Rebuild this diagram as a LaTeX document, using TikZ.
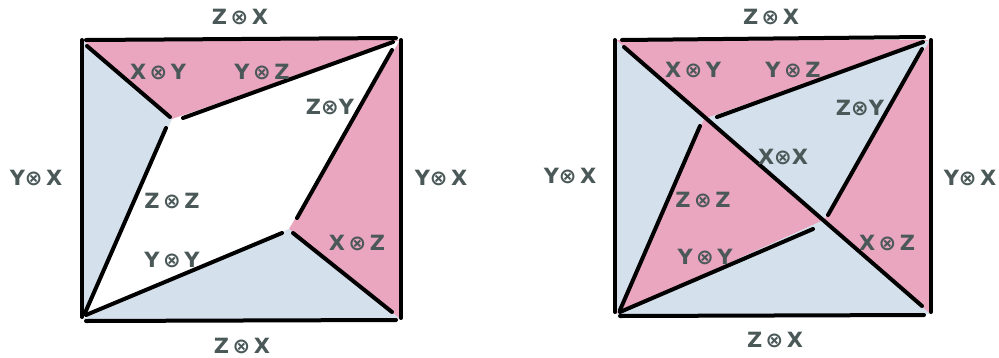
\documentclass[tikz,border=0pt]{standalone}
\usepackage{fontspec}
\setmainfont{DejaVu Sans}
\definecolor{pinkf}{HTML}{E9A6BE}
\definecolor{bluef}{HTML}{D4E0EC}
\definecolor{txt}{HTML}{4A5857}
\begin{document}
\begin{tikzpicture}[x=1pt,y=-1pt,
  edge/.style={line width=4pt,line cap=round,black},
  lbl/.style={text=txt,font=\fontsize{21}{21}\selectfont\bfseries,inner sep=0pt}]
\useasboundingbox (0,0) rectangle (999,357);
% ---------------- left figure ----------------
\coordinate (aTL) at (83,40);
\coordinate (aTR) at (400,40);
\coordinate (aBR) at (400,319);
\coordinate (aBL) at (83,319);
\coordinate (aP) at (172,119);
\coordinate (aQ) at (289,229);
\fill[pinkf] (aTL) -- (aTR) -- (aP) -- cycle;
\fill[bluef] (aTL) -- (aP) -- (aBL) -- cycle;
\fill[pinkf] (aTR) -- (aBR) -- (aQ) -- cycle;
\fill[bluef] (aBL) -- (aQ) -- (aBR) -- cycle;
% interior lines
\coordinate (a1s) at (87,46);   \coordinate (a1e) at (170,117);
\coordinate (a2s) at (183,118); \coordinate (a2e) at (393,42);
\coordinate (a3s) at (166,128); \coordinate (a3e) at (85,313);
\coordinate (a4s) at (392,50);  \coordinate (a4e) at (297,218);
\coordinate (a5s) at (282,233); \coordinate (a5e) at (86,315);
\coordinate (a6s) at (293,233); \coordinate (a6e) at (392,312);
\draw[edge] (a1s) -- (a1e);
\draw[edge] (a2s) -- (a2e);
\draw[edge] (a3s) -- (a3e);
\draw[edge] (a4s) -- (a4e);
\draw[edge] (a5s) -- (a5e);
\draw[edge] (a6s) -- (a6e);
% sides
\coordinate (at1) at (86,40);  \coordinate (at2) at (396,38);
\coordinate (al1) at (82,40);  \coordinate (al2) at (82,317);
\coordinate (ar1) at (401,40); \coordinate (ar2) at (401,318);
\coordinate (ab1) at (86,321); \coordinate (ab2) at (396,320);
\draw[edge] (at1) -- (at2);
\draw[edge] (al1) -- (al2);
\draw[edge] (ar1) -- (ar2);
\draw[edge] (ab1) -- (ab2);
% labels
\node[lbl] (aTop) at (240,17) {Z\,⊗\,X};
\node[lbl] (aBot) at (242,346) {Z\,⊗\,X};
\node[lbl] (aLft) at (36,178) {Y⊗\,X};
\node[lbl] (aRgt) at (441,178) {Y⊗\,X};
\node[lbl] (aXY) at (158,72) {X\,⊗\,Y};
\node[lbl] (aYZ) at (262,72) {Y\,⊗\,Z};
\node[lbl] (aZY) at (330,107) {Z⊗Y};
\node[lbl] (aZZ) at (172,201) {Z\,⊗\,Z};
\node[lbl] (aYY) at (172,260) {Y\,⊗\,Y};
\node[lbl] (aXZ) at (357,243) {X\,⊗\,Z};
% ---------------- right figure ----------------
\coordinate (bTL) at (616,40);
\coordinate (bTR) at (930,40);
\coordinate (bBR) at (930,314);
\coordinate (bBL) at (616,314);
\coordinate (bP) at (704,119);
\coordinate (bQ) at (824,220);
\fill[pinkf] (bTL) -- (bTR) -- (bP) -- cycle;
\fill[bluef] (bTL) -- (bP) -- (bBL) -- cycle;
\fill[bluef] (bP) -- (bTR) -- (bQ) -- cycle;
\fill[pinkf] (bP) -- (bQ) -- (bBL) -- cycle;
\fill[pinkf] (bTR) -- (bBR) -- (bQ) -- cycle;
\fill[bluef] (bBL) -- (bQ) -- (bBR) -- cycle;
\coordinate (b0s) at (624,47);  \coordinate (b0e) at (922,306);
\coordinate (b2s) at (717,117); \coordinate (b2e) at (923,42);
\coordinate (b3s) at (700,126); \coordinate (b3e) at (620,310);
\coordinate (b4s) at (922,49);  \coordinate (b4e) at (828,215);
\coordinate (b5s) at (813,229); \coordinate (b5e) at (620,312);
\draw[edge] (b0s) -- (b0e);
\draw[edge] (b2s) -- (b2e);
\draw[edge] (b3s) -- (b3e);
\draw[edge] (b4s) -- (b4e);
\draw[edge] (b5s) -- (b5e);
\coordinate (bt1) at (622,40);  \coordinate (bt2) at (924,37);
\coordinate (bl1) at (615,40);  \coordinate (bl2) at (615,312);
\coordinate (br1) at (931,40);  \coordinate (br2) at (931,312);
\coordinate (bb1) at (620,316); \coordinate (bb2) at (924,315);
\draw[edge] (bt1) -- (bt2);
\draw[edge] (bl1) -- (bl2);
\draw[edge] (br1) -- (br2);
\draw[edge] (bb1) -- (bb2);
\node[lbl] (bTop) at (771,17) {Z\,⊗\,X};
\node[lbl] (bBot) at (775,340) {Z\,⊗\,X};
\node[lbl] (bLft) at (570,176) {Y⊗\,X};
\node[lbl] (bRgt) at (970,178) {Y⊗\,X};
\node[lbl] (bXY) at (693,70) {X\,⊗\,Y};
\node[lbl] (bYZ) at (793,70) {Y\,⊗\,Z};
\node[lbl] (bZY) at (860,108) {Z⊗Y};
\node[lbl] (bXX) at (783,157) {X⊗X};
\node[lbl] (bZZ) at (703,200) {Z\,⊗\,Z};
\node[lbl] (bYY) at (705,257) {Y\,⊗\,Y};
\node[lbl] (bXZ) at (887,243) {X\,⊗\,Z};
\end{tikzpicture}
\end{document}
